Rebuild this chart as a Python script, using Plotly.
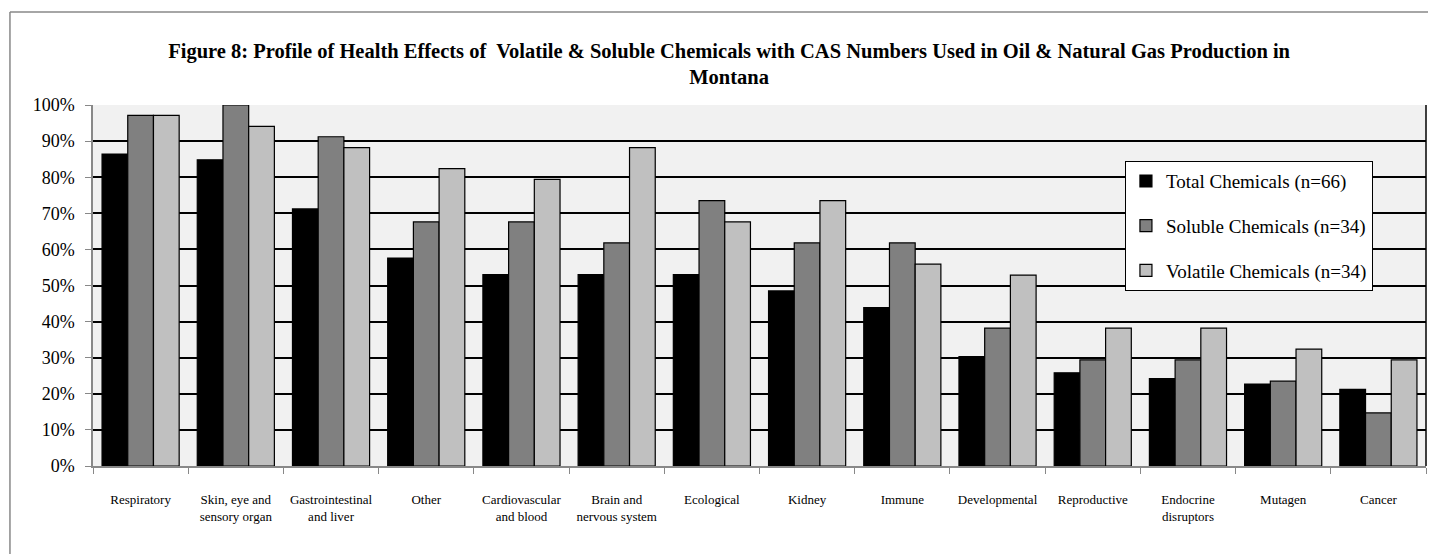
import plotly.graph_objects as go

categories = ['Respiratory', 'Skin, eye and<br>sensory organ', 'Gastrointestinal<br>and liver', 'Other',
              'Cardiovascular<br>and blood', 'Brain and<br>nervous system', 'Ecological', 'Kidney',
              'Immune', 'Developmental', 'Reproductive', 'Endocrine<br>disruptors', 'Mutagen', 'Cancer']

total_chemicals = [86.4, 84.8, 71.2, 57.6, 53.0, 53.0, 53.0, 48.5, 43.9, 30.3, 25.8, 24.2, 22.7, 21.2]
soluble_chemicals = [97.1, 100.0, 91.2, 67.6, 67.6, 61.8, 73.5, 61.8, 61.8, 38.2, 29.4, 29.4, 23.5, 14.7]
volatile_chemicals = [97.1, 94.1, 88.2, 82.4, 79.4, 88.2, 67.6, 73.5, 55.9, 52.9, 38.2, 38.2, 32.4, 29.4]

series = [
    ('Total Chemicals (n=66)', total_chemicals, '#000000'),
    ('Soluble Chemicals (n=34)', soluble_chemicals, '#808080'),
    ('Volatile Chemicals (n=34)', volatile_chemicals, '#c0c0c0'),
]

serif = 'Liberation Serif, Times New Roman, serif'

fig = go.Figure()
for i, (name, vals, color) in enumerate(series):
    fig.add_trace(go.Bar(x=categories, y=vals, name=name, legendgroup=str(i),
                         marker=dict(color=color, line=dict(color='#000000', width=1.2))))

# page body has an 8px margin, so the figure is a bit smaller than the window
fig.update_layout(
    width=1428, height=546,
    paper_bgcolor='white', plot_bgcolor='#f1f1f1',
    margin=dict(l=85, r=10, t=97, b=88),
    barmode='group', bargap=0.19, bargroupgap=0,
    font=dict(family=serif, color='black'),
    title=dict(text='<b>Figure 8: Profile of Health Effects of  Volatile & Soluble Chemicals with CAS Numbers Used in Oil & Natural Gas Production in<br>Montana</b>',
               x=0.505, xanchor='center', y=0.909, yanchor='middle',
               font=dict(family=serif, size=20.5, color='black')),
    legend=dict(x=0.774, y=0.845, xanchor='left', yanchor='top',
                bgcolor='white', bordercolor='black', borderwidth=1.2,
                font=dict(family=serif, size=19), traceorder='grouped',
                tracegroupgap=17, itemwidth=30),
    showlegend=True,
)

fig.update_xaxes(showline=True, linecolor='#888888', linewidth=1.5, ticks='outside',
                 tickson='boundaries', ticklen=6, tickcolor='#888888',
                 tickfont=dict(family=serif, size=13), ticklabelstandoff=21)
fig.update_yaxes(range=[0, 100], dtick=10, ticksuffix='%', showgrid=True, gridcolor='#000000',
                 gridwidth=1.5, showline=True, linecolor='#888888', linewidth=1.5,
                 ticks='outside', ticklen=6, tickcolor='#888888',
                 tickfont=dict(family=serif, size=18), zeroline=False, ticklabelstandoff=7)

# right border of the plot area and outer frame
fig.add_shape(type='line', xref='paper', yref='paper', x0=1, x1=1, y0=0, y1=1,
              line=dict(color='#000000', width=1.5))
fig.add_shape(type='line', xref='paper', yref='paper', x0=-0.0623, x1=1.1, y0=1.2576, y1=1.2576,
              line=dict(color='#888888', width=1.5))
fig.add_shape(type='line', xref='paper', yref='paper', x0=-0.0623, x1=-0.0623, y0=-0.3, y1=1.2576,
              line=dict(color='#888888', width=1.5))

fig.write_html('out.html')
